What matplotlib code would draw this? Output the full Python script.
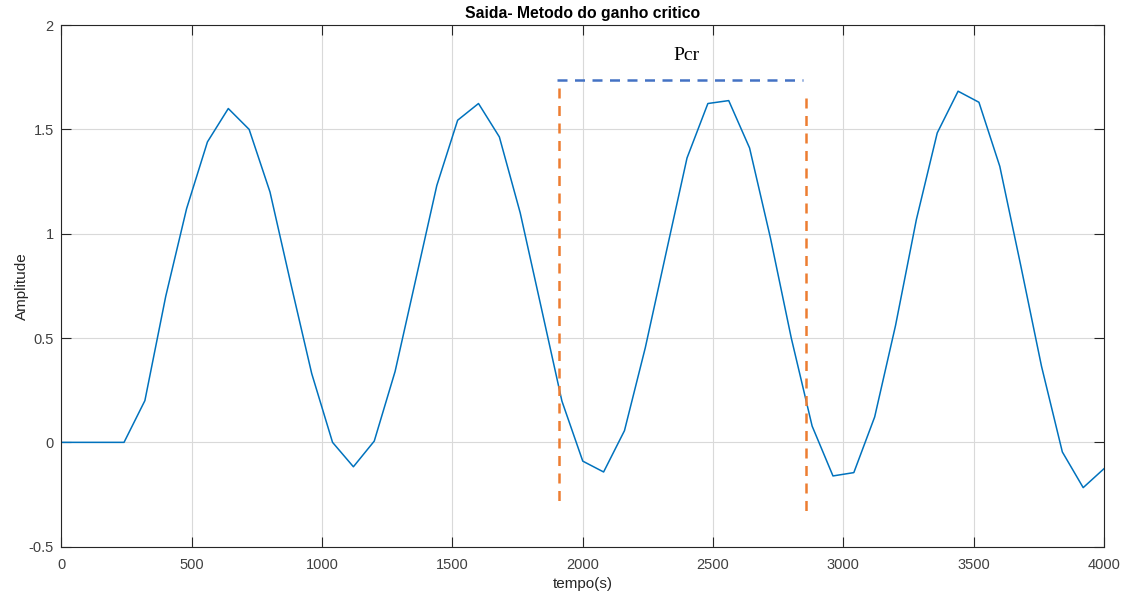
import matplotlib
matplotlib.use("Agg")
import matplotlib.pyplot as plt

# dados (amostras a cada 80 s)
tempo = [0, 80, 160, 240, 320, 400, 480, 560, 640, 720, 800, 880, 960, 1040, 1120,
         1200, 1280, 1360, 1440, 1520, 1600, 1680, 1760, 1840, 1920, 2000, 2080,
         2160, 2240, 2320, 2400, 2480, 2560, 2640, 2720, 2800, 2880, 2960, 3040,
         3120, 3200, 3280, 3360, 3440, 3520, 3600, 3680, 3760, 3840, 3920, 4000]
amplitude = [0, 0, 0, 0, 0.20, 0.70, 1.12, 1.44, 1.60, 1.50, 1.20, 0.76, 0.33, 0.0, -0.117,
             0.006, 0.34, 0.785, 1.231, 1.544, 1.624, 1.464, 1.10, 0.65, 0.198, -0.09, -0.142,
             0.056, 0.454, 0.91, 1.363, 1.624, 1.638, 1.411, 0.98, 0.50, 0.078, -0.161, -0.145,
             0.122, 0.56, 1.068, 1.483, 1.683, 1.63, 1.323, 0.85, 0.365, -0.046, -0.217, -0.126]

# marcacoes do periodo critico
pcr_x = [1902, 2845]
pcr_y = 1.735
lim_esq_x = 1908
lim_esq_y = [1.70, -0.30]
lim_dir_x = 2858
lim_dir_y = [1.651, -0.329]

fig = plt.figure(figsize=(11.26, 5.97), dpi=100)
ax = fig.add_axes([0.0546, 0.0843, 0.9259, 0.8737])

ax.plot(tempo, amplitude, color='#0072BD', lw=1.1)
ax.plot(pcr_x, [pcr_y, pcr_y], color='#4472C4', lw=1.8, ls=(0, (4, 3)))
ax.plot([lim_esq_x, lim_esq_x], lim_esq_y, color='#ED7D31', lw=1.8, ls=(0, (4, 3)))
ax.plot([lim_dir_x, lim_dir_x], lim_dir_y, color='#ED7D31', lw=1.8, ls=(0, (4, 3)))
ax.text(2397, 1.855, 'Pcr', family='Liberation Serif', fontsize=14,
        ha='center', va='center', color='black')

ax.set_xlim(0, 4000)
ax.set_ylim(-0.5, 2)
ax.set_xticks([0, 500, 1000, 1500, 2000, 2500, 3000, 3500, 4000])
ax.set_yticks([-0.5, 0, 0.5, 1, 1.5, 2])
ax.set_yticklabels(['-0.5', '0', '0.5', '1', '1.5', '2'])
ax.grid(True, color='#d9d9d9', lw=0.8)
ax.set_axisbelow(True)
ax.tick_params(direction='in', length=7, width=0.8, top=True, right=True,
               labelsize=10.5, colors='#262626', labelcolor='#404040')
ax.tick_params(axis='x', pad=8)
ax.tick_params(axis='y', pad=5.5)
for s in ax.spines.values():
    s.set_color('#262626')
    s.set_linewidth(0.8)

ax.set_title('Saida- Metodo do ganho critico', fontsize=11.3, fontweight='bold',
             family='Liberation Sans', pad=5)
ax.set_xlabel('tempo(s)', fontsize=11, color='#262626', family='Liberation Sans', labelpad=4)
ax.set_ylabel('Amplitude', fontsize=11, color='#262626', family='Liberation Sans', labelpad=0)
for lbl in ax.get_xticklabels() + ax.get_yticklabels():
    lbl.set_family('Liberation Sans')

fig.savefig('out.png', dpi=100)
